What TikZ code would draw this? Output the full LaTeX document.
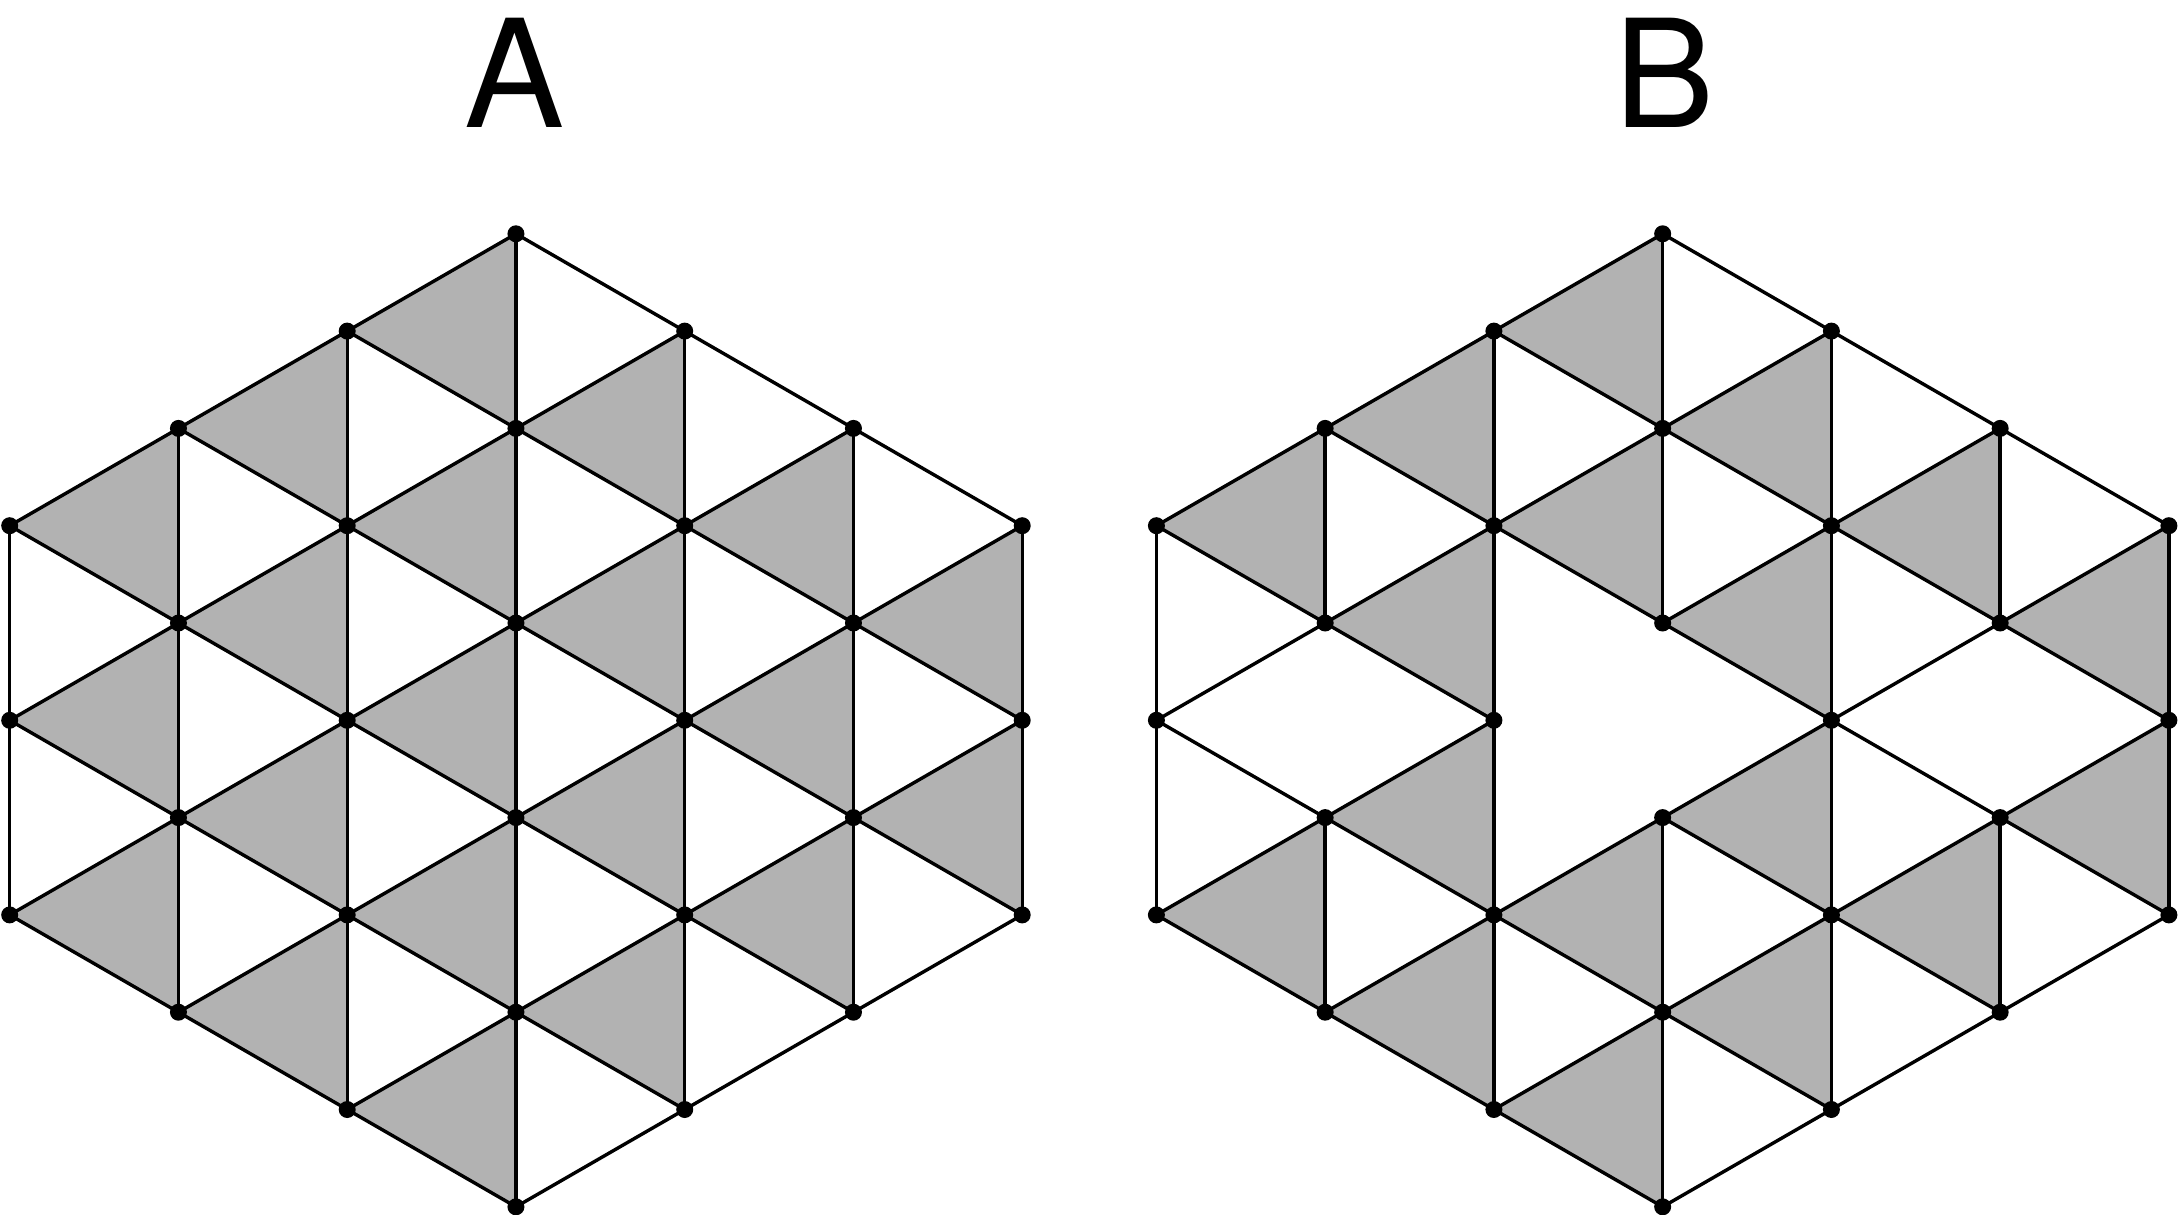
\documentclass[tikz,border=0pt]{standalone}
\usepackage{fontspec}
\setmainfont{TeX Gyre Heros}
\begin{document}
\begin{tikzpicture}[x=1pt,y=-1pt,
  edge/.style={line width=3.4pt,line cap=round},
  gfill/.style={fill=black!30},
  dot/.style={circle,fill=black,inner sep=0pt,minimum size=17pt},
  lbl/.style={font=\fontsize{150}{150}\selectfont,inner sep=0pt}]
\useasboundingbox (0,0) rectangle (2182,1215);
\def\xs{168.75}\def\ys{97.3}\def\yo{233.8}
\newcommand\drawpanel[3]{%
  % coordinates
  \foreach \c in {0,...,6}{%
    \pgfmathtruncatemacro\m{abs(3-\c)}\pgfmathtruncatemacro\mn{\m+2}\pgfmathtruncatemacro\M{10-\m}%
    \foreach \k in {\m,\mn,...,\M}{\coordinate (#1-\c-\k) at ({#2+\c*\xs},{\yo+\k*\ys});}}
  % grey triangles
  \foreach \c/\k in {1/3,1/5,1/7,2/2,2/4,2/6,2/8,3/1,3/3,3/5,3/7,3/9,4/2,4/4,4/6,4/8,5/3,5/5,5/7,6/4,6/6}{%
    \pgfmathtruncatemacro\skp{(#3==1)&&(\k==5)}%
    \ifnum\skp=0
      \pgfmathtruncatemacro\cm{\c-1}\pgfmathtruncatemacro\ka{\k-1}\pgfmathtruncatemacro\kb{\k+1}%
      \fill[gfill] (#1-\cm-\k) -- (#1-\c-\ka) -- (#1-\c-\kb) -- cycle;
    \fi}
  % vertical edges
  \foreach \c in {0,...,6}{%
    \pgfmathtruncatemacro\m{abs(3-\c)}\pgfmathtruncatemacro\mn{\m+2}\pgfmathtruncatemacro\M{8-\m}%
    \foreach \k in {\m,\mn,...,\M}{%
      \pgfmathtruncatemacro\skp{(#3==1)&&(\k==4)&&(mod(\c,2)==1)}%
      \ifnum\skp=0
        \pgfmathtruncatemacro\kn{\k+2}\draw[edge] (#1-\c-\k) -- (#1-\c-\kn);
      \fi}}
  % diagonal edges
  \foreach \c in {0,...,5}{%
    \pgfmathtruncatemacro\m{abs(3-\c)}\pgfmathtruncatemacro\mn{\m+2}\pgfmathtruncatemacro\M{10-\m}%
    \pgfmathtruncatemacro\cn{\c+1}\pgfmathtruncatemacro\mm{abs(2-\c)}\pgfmathtruncatemacro\MM{10-\mm}%
    \foreach \k in {\m,\mn,...,\M}{%
      \pgfmathtruncatemacro\skp{(#3==1)&&(\c==2)&&(\k==5)}%
      \ifnum\skp=0
        \pgfmathtruncatemacro\ku{\k+1}\pgfmathtruncatemacro\kd{\k-1}%
        \ifnum\ku>\MM\else\draw[edge] (#1-\c-\k) -- (#1-\cn-\ku);\fi
        \ifnum\kd<\mm\else\draw[edge] (#1-\c-\k) -- (#1-\cn-\kd);\fi
      \fi}}
  % dots
  \foreach \c in {0,...,6}{%
    \pgfmathtruncatemacro\m{abs(3-\c)}\pgfmathtruncatemacro\mn{\m+2}\pgfmathtruncatemacro\M{10-\m}%
    \foreach \k in {\m,\mn,...,\M}{\node[dot] (#1d-\c-\k) at (#1-\c-\k) {};}}
}
\drawpanel{A}{9.7}{0}
\drawpanel{B}{1156.4}{1}
\node[lbl,anchor=south] (labA) at (515,128) {A};
\node[lbl,anchor=south] (labB) at (1665,128) {B};
\end{tikzpicture}
\end{document}
